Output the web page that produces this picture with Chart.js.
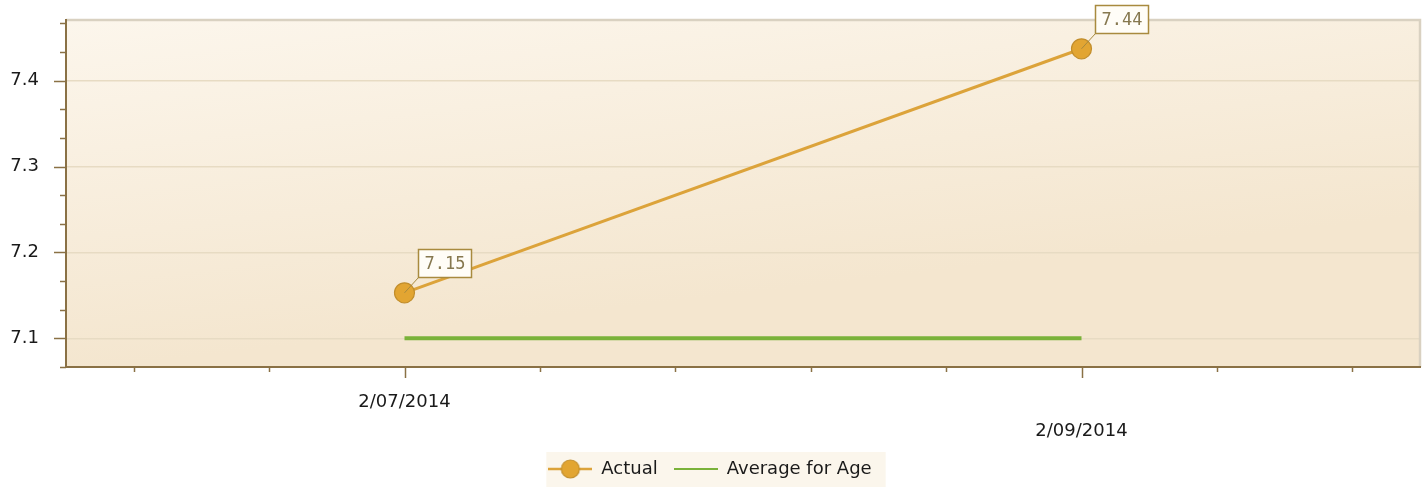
<!DOCTYPE html>
<html>
<head>
<meta charset="utf-8">
<script src="https://cdn.jsdelivr.net/npm/chart.js@4"></script>
<style>
  html, body { margin: 0; padding: 0; background: #ffffff; }
  #wrap { width: 1426px; height: 488px; position: relative; }
</style>
</head>
<body>
<div id="wrap"><canvas id="c"></canvas></div>
<script>
// ---- data ----
const xCategories = ['', '', '2/07/2014', '', '', '', '', '2/09/2014', '', ''];
const dates = ['2/07/2014', '2/09/2014'];
const actualValues = [7.153, 7.437];
const averageValues = [7.1, 7.1];
const yTickLabels = [7.1, 7.2, 7.3, 7.4];
const yMinorPerMajor = 3;
const seriesNames = ['Actual', 'Average for Age'];

// ---- styles ----
const FONT = '"DejaVu Sans", Verdana, sans-serif';
const AXIS = '#8a7145';
const ORANGE = '#dca33a';
const ORANGE_PT = '#e2a532';
const ORANGE_EDGE = '#c28e2c';
const GREEN = '#7ab23a';

function makeMarker(withDot, color) {
  const c = document.createElement('canvas');
  c.width = 44; c.height = 22;
  const g = c.getContext('2d');
  g.strokeStyle = color; g.lineWidth = withDot ? 2.5 : 2;
  g.beginPath(); g.moveTo(0, 11); g.lineTo(44, 11); g.stroke();
  if (withDot) {
    g.beginPath(); g.arc(22, 11, 9, 0, Math.PI * 2);
    g.fillStyle = ORANGE_PT; g.fill();
    g.lineWidth = 1.2; g.strokeStyle = ORANGE_EDGE; g.stroke();
  }
  return c;
}
const markerActual = makeMarker(true, ORANGE);
const markerAvg = makeMarker(false, GREEN);

const yMin = 7.1 - 0.1 / yMinorPerMajor;
const yMax = 7.4705;

const bgPlugin = {
  id: 'bgPlugin',
  beforeDraw(chart) {
    const { ctx, chartArea: a } = chart;
    ctx.save();
    const gr = ctx.createLinearGradient(a.left, a.top, a.left + 40, a.bottom);
    gr.addColorStop(0, '#fcf6ec');
    gr.addColorStop(1, '#f4e6cf');
    ctx.fillStyle = gr;
    ctx.fillRect(a.left, a.top, a.right - a.left, a.bottom - a.top);
    // legend background
    const lg = chart.legend;
    if (lg && lg.legendHitBoxes && lg.legendHitBoxes.length) {
      let l = Infinity, r = -Infinity, t = Infinity, b = -Infinity;
      lg.legendHitBoxes.forEach(h => {
        l = Math.min(l, h.left); r = Math.max(r, h.left + h.width);
        t = Math.min(t, h.top); b = Math.max(b, h.top + h.height);
      });
      ctx.fillStyle = '#fbf6ec';
      ctx.fillRect(l - 2, t - 8, r - l + 16, b - t + 17);
    }
    ctx.restore();
  },
  beforeDatasetsDraw(chart) {
    const { ctx, chartArea: a } = chart;
    ctx.save();
    // top / right light borders
    ctx.strokeStyle = '#d9d1c1';
    ctx.lineWidth = 2.5;
    ctx.beginPath();
    ctx.moveTo(a.left, a.top); ctx.lineTo(a.right, a.top); ctx.lineTo(a.right, a.bottom);
    ctx.stroke();
    // axis lines
    ctx.strokeStyle = AXIS;
    ctx.lineWidth = 2;
    ctx.beginPath();
    ctx.moveTo(a.left, a.top - 1); ctx.lineTo(a.left, a.bottom); ctx.lineTo(a.right + 1, a.bottom);
    ctx.stroke();
    // tick marks
    ctx.lineWidth = 1.5;
    const ys = chart.scales.y;
    ys.ticks.forEach(t => {
      const py = Math.round(ys.getPixelForValue(t.value)) + 0.5;
      const len = t.major ? 12 : 6;
      ctx.beginPath(); ctx.moveTo(a.left - len, py); ctx.lineTo(a.left, py); ctx.stroke();
    });
    const xs = chart.scales.x;
    xCategories.forEach((lab, i) => {
      const px = Math.round(xs.getPixelForValue(i)) + 0.5;
      const len = lab ? 11 : 5;
      ctx.beginPath(); ctx.moveTo(px, a.bottom); ctx.lineTo(px, a.bottom + len); ctx.stroke();
    });
    ctx.restore();
  },
  afterDatasetsDraw(chart) {
    const { ctx } = chart;
    const meta = chart.getDatasetMeta(0);
    ctx.save();
    ctx.font = '17px "DejaVu Sans Mono", monospace';
    meta.data.forEach((pt, i) => {
      const txt = actualValues[i].toFixed(2);
      const tw = ctx.measureText(txt).width;
      const bw = Math.round(tw + 12), bh = 28;
      const bx = Math.round(pt.x + 13) + 0.5, by = Math.round(pt.y - 16 - bh) + 0.5;
      ctx.strokeStyle = '#a88a3e';
      ctx.lineWidth = 1;
      ctx.beginPath(); ctx.moveTo(pt.x, pt.y); ctx.lineTo(bx, by + bh); ctx.stroke();
      ctx.fillStyle = '#fffdf7';
      ctx.fillRect(bx, by, bw, bh);
      ctx.lineWidth = 1.5;
      ctx.strokeRect(bx, by, bw, bh);
      ctx.fillStyle = '#86784f';
      ctx.textAlign = 'center'; ctx.textBaseline = 'middle';
      ctx.fillText(txt, bx + bw / 2, by + bh / 2 + 1);
    });
    ctx.restore();
  }
};

new Chart(document.getElementById('c'), {
  type: 'line',
  data: {
    labels: xCategories,
    datasets: [
      {
        label: seriesNames[0],
        data: dates.map((d, i) => ({ x: d, y: actualValues[i] })),
        borderColor: ORANGE,
        borderWidth: 3,
        pointRadius: 10,
        pointHoverRadius: 10,
        pointBackgroundColor: ORANGE_PT,
        pointBorderColor: ORANGE_EDGE,
        pointBorderWidth: 1.2,
        pointStyle: 'circle',
        fill: false,
        tension: 0
      },
      {
        label: seriesNames[1],
        data: dates.map((d, i) => ({ x: d, y: averageValues[i] })),
        borderColor: GREEN,
        borderWidth: 4,
        pointRadius: 0,
        pointHoverRadius: 0,
        fill: false,
        tension: 0
      }
    ]
  },
  options: {
    responsive: true,
    maintainAspectRatio: false,
    devicePixelRatio: 1,
    animation: false,
    events: [],
    layout: { autoPadding: false, padding: { top: 20, right: 6, left: 0, bottom: 0 } },
    plugins: {
      tooltip: { enabled: false },
      legend: {
        display: true,
        position: 'bottom',
        labels: {
          usePointStyle: true,
          pointStyleWidth: 44,
          boxHeight: 18,
          padding: 16,
          color: '#1a1a1a',
          font: { family: FONT, size: 18 },
          generateLabels(chart) {
            return chart.data.datasets.map((ds, i) => ({
              text: ds.label,
              pointStyle: i === 0 ? markerActual : markerAvg,
              fillStyle: ds.borderColor,
              strokeStyle: ds.borderColor,
              lineWidth: 0,
              hidden: false,
              datasetIndex: i,
              fontColor: '#1a1a1a'
            }));
          }
        }
      }
    },
    scales: {
      x: {
        type: 'category',
        offset: true,
        grid: { display: false, drawTicks: false },
        border: { display: false },
        ticks: {
          autoSkip: false,
          maxRotation: 0,
          padding: 20,
          color: '#1a1a1a',
          font: { family: FONT, size: 18, lineHeight: 1.65 },
          callback(value, index) {
            const lab = xCategories[index];
            if (!lab) return '';
            const order = dates.indexOf(lab);
            return order % 2 === 1 ? ['', lab] : lab;
          }
        },
        afterFit(scale) {
          scale.height = 77;
          scale.paddingLeft = 0; scale.paddingRight = 0;
          scale.paddingTop = 0; scale.paddingBottom = 0;
        }
      },
      y: {
        min: yMin,
        max: yMax,
        grid: {
          drawTicks: false,
          color(ctx) { return ctx.tick && ctx.tick.major ? '#e7dbc3' : 'rgba(0,0,0,0)'; },
          lineWidth: 1.5
        },
        border: { display: false },
        afterBuildTicks(scale) {
          const step = 0.1 / yMinorPerMajor;
          const base = yTickLabels[0];
          const out = [];
          for (let k = -yMinorPerMajor; k <= (yTickLabels.length + 1) * yMinorPerMajor; k++) {
            const v = base + k * step;
            if (v >= yMin - 1e-9 && v <= yMax + 1e-9) out.push({ value: v, major: k % yMinorPerMajor === 0 });
          }
          scale.ticks = out;
        },
        ticks: {
          padding: 27,
          color: '#1a1a1a',
          font: { family: FONT, size: 18 },
          callback(value, index, ticks) {
            return ticks[index] && ticks[index].major ? value.toFixed(1) : '';
          }
        },
        afterFit(scale) {
          scale.width = 66;
          scale.paddingTop = 0; scale.paddingBottom = 0;
          scale.paddingLeft = 0; scale.paddingRight = 0;
        }
      }
    }
  },
  plugins: [bgPlugin]
});
</script>
</body>
</html>
